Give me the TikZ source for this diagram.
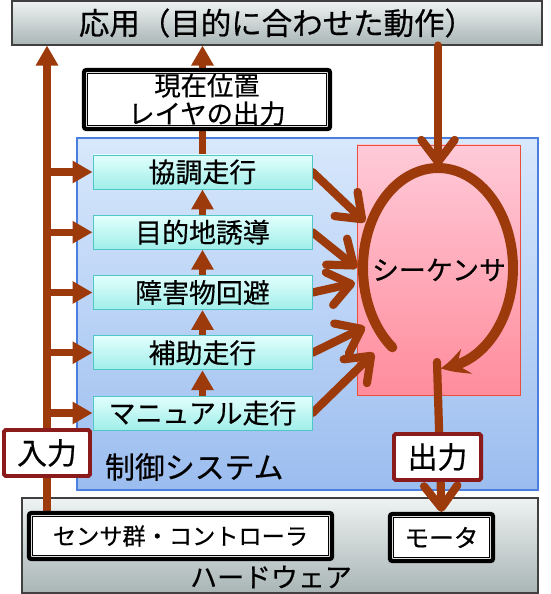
\documentclass[tikz,border=0pt]{standalone}
\usepackage{fontspec}
\setmainfont{Noto Sans CJK JP}[FakeBold=0.5]
\usepackage{tikz}
\usetikzlibrary{arrows.meta,bending,calc}
\definecolor{arrowred}{HTML}{9C3A0C}
\definecolor{boxred}{HTML}{8B1A1A}
\definecolor{greytop}{HTML}{EEF2F2}
\definecolor{greybot}{HTML}{A9B5B5}
\definecolor{greyline}{HTML}{404040}
\definecolor{bluetop}{HTML}{D8E8FC}
\definecolor{bluebot}{HTML}{9BBDEF}
\definecolor{blueline}{HTML}{4A7FE0}
\definecolor{pinktop}{HTML}{FFCAD8}
\definecolor{pinkbot}{HTML}{FF8C9C}
\definecolor{pinkline}{HTML}{E8503C}
\definecolor{cyantop}{HTML}{E2FFFD}
\definecolor{cyanbot}{HTML}{A0EEE9}
\definecolor{cyanline}{HTML}{4FC7C7}
\pgfdeclarelayer{bg}
\pgfdeclarelayer{lines}
\pgfsetlayers{bg,lines,main}

\begin{document}
\begin{tikzpicture}[x=0.03cm,y=-0.03cm,
  panel/.style={draw=greyline,line width=0.9pt,top color=greytop,bottom color=greybot,inner sep=0},
  behav/.style={draw=cyanline,line width=0.8pt,top color=cyantop,bottom color=cyanbot,inner sep=0,
    minimum width=6.57cm,minimum height=1.02cm,font=\fontsize{23pt}{26pt}\selectfont},
  dblbox/.style={draw=black,line width=3.6pt,rounded corners=2pt,fill=white,inner sep=0},
  iobox/.style={draw=boxred,line width=3.4pt,rounded corners=1.5pt,fill=white,inner sep=0,
    minimum height=1.38cm,font=\fontsize{25.5pt}{28pt}\selectfont},
  fat/.style={draw=arrowred,line width=6pt,-{Triangle[length=0.6cm,width=0.64cm]}},
  vee/.style={draw=arrowred,line width=7pt,line cap=round,-{Straight Barb[length=0.66cm,width=1cm,round]}},
  seqloop/.style={draw=arrowred,line width=8.5pt,line cap=round,-{Stealth[length=0.8cm,width=0.8cm,inset=0.3cm,bend]}}]
\useasboundingbox (0,0) rectangle (550,594);
\begin{pgfonlayer}{bg}
  \node[panel,minimum width=15.9cm,minimum height=1.32cm,font=\fontsize{26pt}{30pt}\selectfont]
    (top) at (277,23) {応用（目的に合わせた動作）};
  \node[panel,minimum width=15.48cm,minimum height=2.85cm] (hw) at (280,545.5) {};
  \node[draw=blueline,line width=0.9pt,top color=bluetop,bottom color=bluebot,
    minimum width=13.83cm,minimum height=10.56cm] (ctrl) at (307.5,314) {};
  \node[draw=pinkline,line width=0.8pt,top color=pinktop,bottom color=pinkbot,
    minimum width=4.89cm,minimum height=7.5cm] (seq) at (438.5,270) {};
\end{pgfonlayer}
\foreach \i/\y/\txt in {1/172/協調走行,2/232.25/目的地誘導,3/292.5/障害物回避,4/352.75/補助走行,5/413/マニュアル走行}
  \node[behav] (b\i) at (202.5,\y) {\txt};
\node[dblbox,minimum width=7.38cm,minimum height=1.77cm,align=center,
  font=\fontsize{22.5pt}{24pt}\selectfont] (pos) at (207,99.5) {現在位置\\レイヤの出力};
\node[iobox,minimum width=2.58cm] (in) at (47,453) {入力};
\node[iobox,minimum width=2.61cm] (out) at (437.5,457) {出力};
\node[dblbox,minimum width=9.09cm,minimum height=1.38cm,font=\fontsize{19.8pt}{24pt}\selectfont]
  (sens) at (180.5,536) {センサ群・コントローラ};
\node[dblbox,minimum width=3.09cm,minimum height=1.41cm,font=\fontsize{21pt}{24pt}\selectfont]
  (motor) at (441.5,537.5) {モータ};
\node[anchor=west,font=\fontsize{25.5pt}{28pt}\selectfont] (ctrllabel) at (101,467) {制御システム};
\node[font=\fontsize{23pt}{26pt}\selectfont] (hwlabel) at (271,577) {ハードウェア};
\node[font=\fontsize{23pt}{26pt}\selectfont] (seqlabel) at (439,270) {シーケンサ};
\foreach \n in {pos,sens,motor}
  \draw[line width=1pt] ([shift={(5.5,5.5)}]\n.north west) rectangle ([shift={(-5.5,-5.5)}]\n.south east);
\begin{pgfonlayer}{lines}
  \draw[fat] (sens.north -| in.center) -- (in.center |- top.south);
  \foreach \i in {1,...,5}
    \draw[fat] (in.center |- b\i.west) -- (b\i.west);
  \foreach \i/\j in {2/1,3/2,4/3,5/4}
    \draw[fat] (b\i.north) -- (b\j.south);
  \draw[fat] (b1.north) -- (b1.north |- top.south);
  \foreach \i/\x/\y in {1/365/222,2/357/268,3/355/283,4/365/327,5/374/353}{
    \coordinate (t\i) at (\x,\y);
    \draw[vee] (b\i.east) -- (t\i);}
  \coordinate (looptop) at (438,166);
  \draw[vee] (top.south -| looptop) -- (looptop);
  \coordinate (loopc) at (438,268);
  \draw[seqloop] ($(loopc)+(127.5:75 and 100)$) arc[start angle=127.5,end angle=448,x radius=75,y radius=100];
  \coordinate (outs) at (437,362);
  \draw[vee] (outs) -- (motor.north);
\end{pgfonlayer}
\end{tikzpicture}
\end{document}
